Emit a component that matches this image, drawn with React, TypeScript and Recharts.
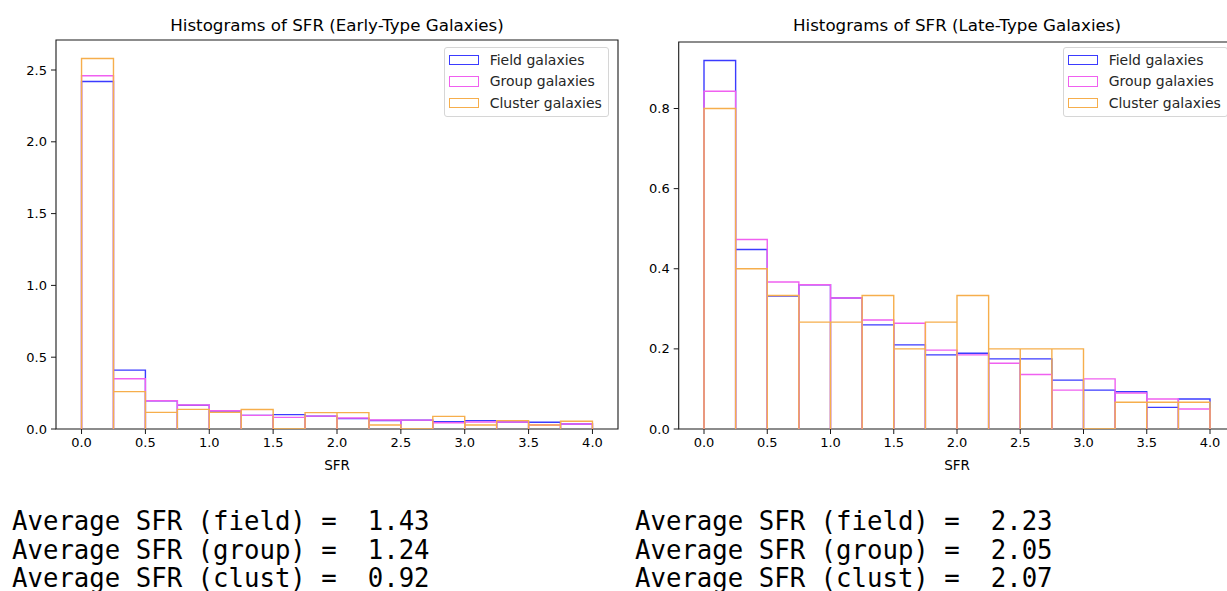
import React from 'react';
import { LineChart, Line, XAxis, YAxis, Legend, ReferenceArea } from 'recharts';

// bin edges (SFR)
const binEdges = [0, 0.25, 0.5, 0.75, 1.0, 1.25, 1.5, 1.75, 2.0, 2.25, 2.5, 2.75, 3.0, 3.25, 3.5, 3.75, 4.0];
const xTicks = [0, 0.5, 1.0, 1.5, 2.0, 2.5, 3.0, 3.5, 4.0];

// Early-type galaxies (density)
const earlyField = [2.42, 0.41, 0.197, 0.165, 0.125, 0.095, 0.1, 0.09, 0.072, 0.059, 0.062, 0.051, 0.058, 0.049, 0.047, 0.035];
const earlyGroup = [2.46, 0.35, 0.197, 0.167, 0.127, 0.095, 0.081, 0.09, 0.077, 0.063, 0.062, 0.044, 0.049, 0.049, 0.028, 0.035];
const earlyCluster = [2.58, 0.26, 0.116, 0.137, 0.116, 0.136, 0.0, 0.114, 0.114, 0.028, 0.0, 0.088, 0.028, 0.058, 0.028, 0.054];
const earlyYTicks = [0, 0.5, 1.0, 1.5, 2.0, 2.5];
const earlyYMax = 2.709;

// Late-type galaxies (density)
const lateField = [0.92, 0.448, 0.332, 0.36, 0.327, 0.26, 0.21, 0.185, 0.189, 0.175, 0.175, 0.122, 0.097, 0.093, 0.054, 0.075];
const lateGroup = [0.843, 0.473, 0.367, 0.36, 0.327, 0.272, 0.264, 0.197, 0.185, 0.164, 0.136, 0.097, 0.125, 0.09, 0.075, 0.05];
const lateCluster = [0.8, 0.4, 0.3333, 0.2667, 0.2667, 0.3333, 0.2, 0.2667, 0.3333, 0.2, 0.2, 0.2, 0.0, 0.0667, 0.0667, 0.0667];
const lateYTicks = [0, 0.2, 0.4, 0.6, 0.8];
const lateYMax = 0.966;

const seriesNames = ['Field galaxies', 'Group galaxies', 'Cluster galaxies'];
const seriesKeys = ['field', 'group', 'cluster'];
const seriesColors = ['#3b3bff', '#f060f0', '#f6ae4c'];

const earlyAverages = ['Average SFR (field) =  1.43', 'Average SFR (group) =  1.24', 'Average SFR (clust) =  0.92'];
const lateAverages = ['Average SFR (field) =  2.23', 'Average SFR (group) =  2.05', 'Average SFR (clust) =  2.07'];

type Row = { x: number; field: number; group: number; cluster: number };

function buildOutline(field: number[], group: number[], cluster: number[]): Row[] {
  const rows: Row[] = [];
  for (let i = 0; i < field.length; i++) {
    const x0 = binEdges[i];
    const x1 = binEdges[i + 1];
    rows.push({ x: x0, field: 0, group: 0, cluster: 0 });
    rows.push({ x: x0, field: field[i], group: group[i], cluster: cluster[i] });
    rows.push({ x: x1, field: field[i], group: group[i], cluster: cluster[i] });
    rows.push({ x: x1, field: 0, group: 0, cluster: 0 });
  }
  return rows;
}

const earlyData = buildOutline(earlyField, earlyGroup, earlyCluster);
const lateData = buildOutline(lateField, lateGroup, lateCluster);

const FONT = '"DejaVu Sans", sans-serif';
const AXIS = '#1a1a1a';

const LegendBox = (props: any) => {
  const payload = [...(props.payload || [])].sort(
    (a: any, b: any) => seriesNames.indexOf(a.value) - seriesNames.indexOf(b.value)
  );
  return (
    <div
      style={{
        background: 'rgba(255,255,255,0.85)',
        border: '1px solid #d6d6d6',
        borderRadius: 3,
        padding: '1px 6px 2px 4px',
        fontFamily: FONT,
        fontSize: 14,
        color: '#262626',
        whiteSpace: 'nowrap',
        boxSizing: 'border-box',
      }}
    >
      {payload.map((entry: any, i: number) => {
        const idx = seriesNames.indexOf(entry.value);
        return (
          <div key={i} style={{ display: 'flex', alignItems: 'center', height: 21.6 }}>
            <span
              style={{
                display: 'inline-block',
                width: 30,
                height: 10.5,
                boxSizing: 'border-box',
                border: `1.4px solid ${seriesColors[idx]}`,
                marginRight: 10.7,
              }}
            />
            <span>{entry.value}</span>
          </div>
        );
      })}
    </div>
  );
};

const fmt = (v: number) => v.toFixed(1);

type PanelProps = {
  data: Row[];
  yTicks: number[];
  yMax: number;
  left: number;
  margin: { top: number; right: number; bottom: number; left: number };
  yWidth: number;
  legendLeft: number;
};

const Panel = ({ data, yTicks, yMax, left, margin, yWidth, legendLeft }: PanelProps) => (
  <div style={{ position: 'absolute', left, top: 0 }}>
    <LineChart width={640} height={480} data={data} margin={margin}>
      <XAxis
        xAxisId="b"
        dataKey="x"
        type="number"
        domain={[-0.2, 4.2]}
        ticks={xTicks}
        tickFormatter={fmt}
        allowDataOverflow
        height={41}
        stroke={AXIS}
        axisLine={false}
        tickSize={5}
        tickMargin={4}
        tick={{ fontSize: 13, fill: '#000', fontFamily: FONT }}
        label={{ value: 'SFR', position: 'insideBottom', offset: 0, style: { fontSize: 13.5, fill: '#000', fontFamily: FONT } }}
      />
      <YAxis
        yAxisId="l"
        type="number"
        domain={[0, yMax]}
        ticks={yTicks}
        tickFormatter={fmt}
        allowDataOverflow
        width={yWidth}
        stroke={AXIS}
        axisLine={false}
        tickSize={5}
        tickMargin={4}
        tick={{ fontSize: 13, fill: '#000', fontFamily: FONT }}
      />
      {seriesKeys.map((k, i) => (
        <Line
          key={k}
          xAxisId="b"
          yAxisId="l"
          dataKey={k}
          name={seriesNames[i]}
          type="linear"
          stroke={seriesColors[i]}
          strokeWidth={1.4}
          dot={false}
          activeDot={false}
          isAnimationActive={false}
        />
      ))}
      <ReferenceArea
        xAxisId="b"
        yAxisId="l"
        x1={-0.2}
        x2={4.2}
        y1={0}
        y2={yMax}
        fill="none"
        fillOpacity={0}
        stroke={AXIS}
        strokeWidth={1.1}
        strokeOpacity={1}
      />
      <Legend
        layout="horizontal"
        verticalAlign="middle"
        align="center"
        content={<LegendBox />}
        wrapperStyle={{ left: legendLeft, top: 47, width: 'auto', height: 'auto' }}
      />
    </LineChart>
  </div>
);

const titleStyle: React.CSSProperties = {
  position: 'absolute',
  top: 14,
  fontFamily: FONT,
  fontSize: 16.7,
  lineHeight: '22px',
  color: '#000',
  textAlign: 'center',
  width: 600,
  whiteSpace: 'nowrap',
};

const avgStyle: React.CSSProperties = {
  position: 'absolute',
  top: 507,
  fontFamily: '"DejaVu Sans Mono", monospace',
  fontSize: 25.7,
  lineHeight: '28.5px',
  color: '#000',
  whiteSpace: 'pre',
};

export default function App() {
  return (
    <div style={{ position: 'absolute', left: 0, top: 0, width: 1227, height: 591, overflow: 'hidden', background: '#fff' }}>
      <Panel
        data={earlyData}
        yTicks={earlyYTicks}
        yMax={earlyYMax}
        left={0}
        margin={{ top: 40, right: 22, bottom: 10, left: 0 }}
        yWidth={56}
        legendLeft={444}
      />
      <Panel
        data={lateData}
        yTicks={lateYTicks}
        yMax={lateYMax}
        left={620}
        margin={{ top: 42, right: 24.7, bottom: 10, left: 0 }}
        yWidth={58.7}
        legendLeft={443}
      />
      <div style={{ ...titleStyle, left: 337 - 300 }}>Histograms of SFR (Early-Type Galaxies)</div>
      <div style={{ ...titleStyle, left: 957 - 300 }}>Histograms of SFR (Late-Type Galaxies)</div>
      <div style={{ ...avgStyle, left: 12 }}>{earlyAverages.join('\n')}</div>
      <div style={{ ...avgStyle, left: 635 }}>{lateAverages.join('\n')}</div>
    </div>
  );
}
